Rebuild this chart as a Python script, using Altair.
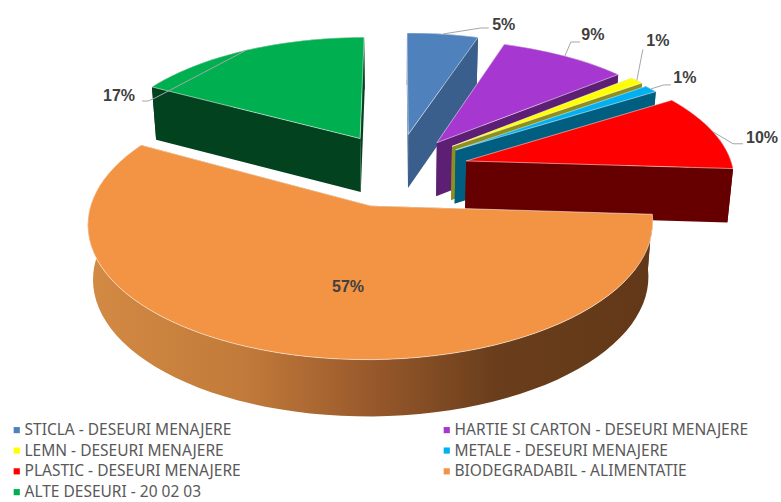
import math
import altair as alt

# Waste composition, in percent
names = ["STICLA - DESEURI MENAJERE", "HARTIE SI CARTON - DESEURI MENAJERE", "LEMN - DESEURI MENAJERE",
         "METALE - DESEURI MENAJERE", "PLASTIC - DESEURI MENAJERE", "BIODEGRADABIL - ALIMENTATIE",
         "ALTE DESEURI - 20 02 03"]
values = [5, 9, 1, 1, 10, 57, 17]
top_colors = ["#4f81bd", "#a637d0", "#ffff00", "#00b0f0", "#ff0000", "#f39445", "#00b050"]
wall_colors = ["#3a5f8c", "#5c1f73", "#8f8f20", "#005f80", "#660000", "#7a4620", "#03421f"]

# Pull-out distance and radius of each wedge on the pie plane
explode = [0.26, 0.25, 0.25, 0.25, 0.25, 0.29, 0.27]
radius = [0.93, 0.93, 0.92, 0.92, 0.94, 0.95, 0.92]
# Small on-page shift of each wedge
nudge = [(-1, -1), (0, 1), (-1, -2), (0, 0), (0, 1), (-3.5, 0), (0, 0)]

# Perspective camera and extrusion
CX, CY, SX, SY, KP = 398.0, 168.0, 284.0, 130.7, 0.132
DEPTH, TAPER = 52.0, 0.983

# Leader offsets (elbow, end, text) relative to each wedge's rim midpoint
label_paths = [
    ((38, -6), (46, -6), (61, -9)),
    ((6, -14), (15, -14), (28, -21)),
    ((6, -31), (6, -31), (21, -39)),
    ((13, -4), (20, -4), (34, -11)),
    ((20, 12), (30, 12), (49, 6)),
]


def project(u, v, shift=(0, 0)):
    d = 1 + KP * v
    return CX + SX * u / d + shift[0], CY - SY * v / d + shift[1]


def lower(p):
    x, y = p
    return CX + (x - CX) * TAPER, y + DEPTH + (y - 40) * 0.015


def polygon(points):
    ring = [list(p) for p in points]
    ring.append(ring[0])
    return {"type": "Feature", "geometry": {"type": "Polygon", "coordinates": [ring]}, "properties": {}}


def polyline(points):
    return {"type": "Feature", "geometry": {"type": "LineString", "coordinates": [list(p) for p in points]},
            "properties": {}}


layers = []
# Invisible page-sized frame keeps the planar projection at one unit per pixel
layers.append(alt.Chart(alt.Data(values=[polygon([(0, 0), (781, 0), (781, 502), (0, 502)])]))
              .mark_geoshape(fill="transparent", stroke="transparent", strokeWidth=0))

color_scale = alt.Scale(domain=names, range=top_colors)
legend = alt.Legend(title=None, orient="none", direction="horizontal", legendX=9, legendY=422, columns=2,
                    columnPadding=198, rowPadding=3.8, symbolType="square", symbolSize=38, symbolStrokeWidth=0,
                    labelFont="Noto Sans", labelFontSize=15.5, labelColor="#595959", labelOffset=0,
                    labelLimit=400)

wall_gradient = alt.LinearGradient(
    gradient="linear", x1=0, x2=1, y1=0, y2=0,
    stops=[alt.GradientStop(offset=0, color="#d38a44"), alt.GradientStop(offset=0.28, color="#c27a3a"),
           alt.GradientStop(offset=0.5, color="#98592b"), alt.GradientStop(offset=0.72, color="#6a3e1c"),
           alt.GradientStop(offset=1, color="#623818")])

labels = []
leaders = []
total = sum(values)
start = 0.0
for i, value in enumerate(values):
    a0 = start / total * 2 * math.pi
    start += value
    a1 = start / total * 2 * math.pi
    mid = (a0 + a1) / 2
    ou, ov = explode[i] * math.sin(mid), explode[i] * math.cos(mid)
    r = radius[i]
    steps = max(4, int(120 * value / total) + 4)
    rim = []
    for s in range(steps + 1):
        a = a0 + (a1 - a0) * s / steps
        rim.append(project(ou + r * math.sin(a), ov + r * math.cos(a), nudge[i]))
    apex = project(ou, ov, nudge[i])
    rim_low = [lower(p) for p in rim]
    apex_low = lower(apex)

    outer = polygon(rim + rim_low[::-1])
    cut_a = polygon([apex, rim[0], rim_low[0], apex_low])
    cut_b = polygon([apex, rim[-1], rim_low[-1], apex_low])
    outer_fill = wall_gradient if names[i].startswith("BIODEGRADABIL") else wall_colors[i]
    walls = [(outer, outer_fill), (cut_b, wall_colors[i]), (cut_a, wall_colors[i])]
    if math.cos(mid) < 0:
        walls = walls[::-1]
    for shape, fill in walls:
        layers.append(alt.Chart(alt.Data(values=[shape])).mark_geoshape(fill=fill, stroke="transparent", strokeWidth=0))

    top = polygon([apex] + rim)
    top["slice"] = names[i]
    layers.append(alt.Chart(alt.Data(values=[top])).mark_geoshape(stroke="#ffffff", strokeOpacity=0.65, strokeWidth=0.8)
                  .encode(color=alt.Color("slice:N", scale=color_scale, legend=legend, sort=None)))

    mid_rim = project(ou + r * math.sin(mid), ov + r * math.cos(mid), nudge[i])
    text = f"{value}%"
    if i < len(label_paths):
        elbow, end, txt = label_paths[i]
        leaders.append(polyline([mid_rim, (mid_rim[0] + elbow[0], mid_rim[1] + elbow[1]),
                                 (mid_rim[0] + end[0], mid_rim[1] + end[1])]))
        labels.append({"t": text, "lx": mid_rim[0] + txt[0], "ly": mid_rim[1] + txt[1]})
    elif names[i].startswith("ALTE"):
        leaders.append(polyline([mid_rim, (155, 98), (148, 101), (142, 101)]))
        labels.append({"t": text, "lx": 119, "ly": 96})
    else:
        labels.append({"t": text, "lx": 348, "ly": 287})

layers.append(alt.Chart(alt.Data(values=leaders)).mark_geoshape(filled=False, stroke="#a6a6a6", strokeWidth=1))
layers.append(alt.Chart(alt.Data(values=labels)).mark_text(
    font="Liberation Sans", fontSize=16, fontWeight="bold", color="#404040", align="center", baseline="middle")
    .encode(longitude="lx:Q", latitude="ly:Q", text="t:N"))

chart = (alt.layer(*layers)
         .project(type="identity")
         .properties(width=781, height=502, padding=0, autosize=alt.AutoSizeParams(type="none"), background="#ffffff")
         .configure_view(stroke=None))

chart.save("out.html", embed_options={"renderer": "svg", "actions": False})
